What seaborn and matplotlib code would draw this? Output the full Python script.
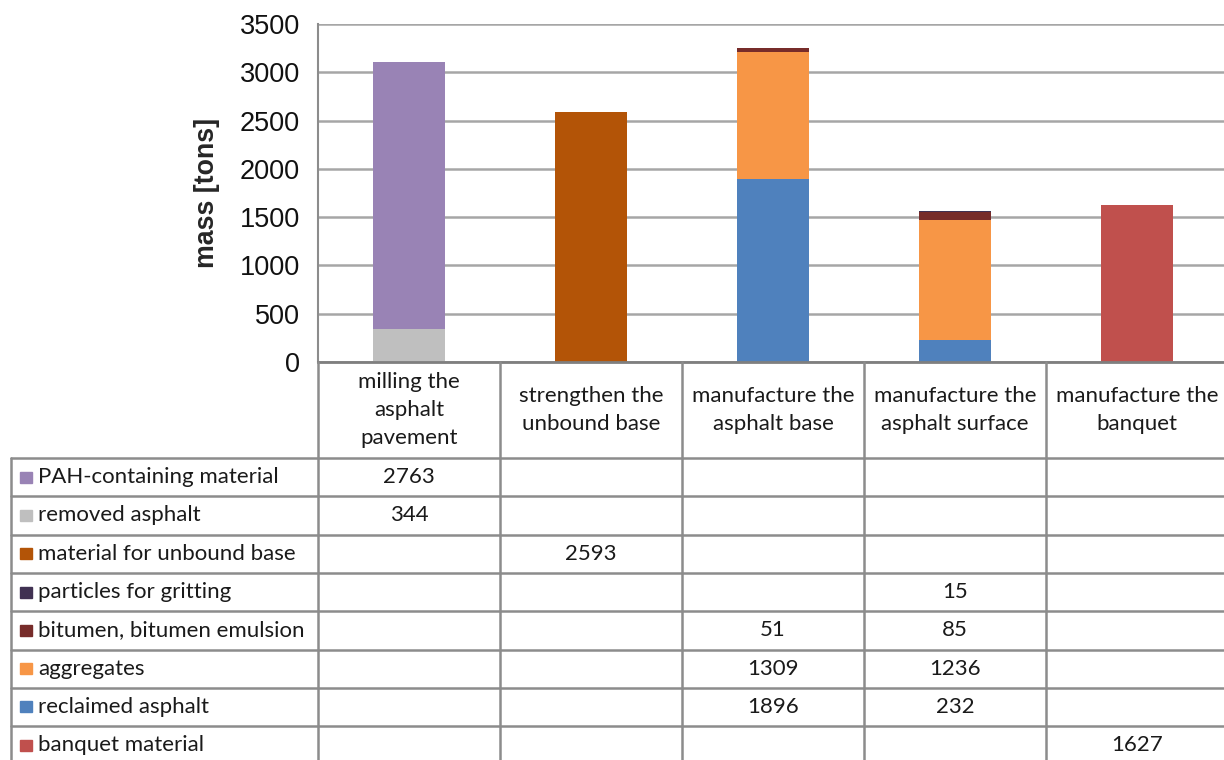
import numpy as np
import pandas as pd
import seaborn as sns
import matplotlib.pyplot as plt

steps = ["milling the\nasphalt\npavement", "strengthen the\nunbound base",
         "manufacture the\nasphalt base", "manufacture the\nasphalt surface",
         "manufacture the\nbanquet"]

# table order (top to bottom)
series_names = ["PAH-containing material", "removed asphalt", "material for unbound base",
                "particles for gritting", "bitumen, bitumen emulsion", "aggregates",
                "reclaimed asphalt", "banquet material"]
pah        = [2763, None, None, None, None]
removed    = [344, None, None, None, None]
unbound    = [None, 2593, None, None, None]
particles  = [None, None, None, 15, None]
bitumen    = [None, None, 51, 85, None]
aggregates = [None, None, 1309, 1236, None]
reclaimed  = [None, None, 1896, 232, None]
banquet    = [None, None, None, None, 1627]
series_values = [pah, removed, unbound, particles, bitumen, aggregates, reclaimed, banquet]
colors = ["#9983B5", "#BFBFBF", "#B35407", "#403152", "#772C2A", "#F79646", "#4F81BD", "#C0504D"]

W, H = 1224, 760
fig = plt.figure(figsize=(W / 100, H / 100), dpi=100)
sns.set_style("white")
plt.rcParams["font.family"] = ["Liberation Sans", "DejaVu Sans"]

# plot area in pixels
x0, y_top, y_zero, col_w = 318, 24, 362, 182
ax = fig.add_axes([x0 / W, (H - y_zero) / H, 5 * col_w / W, (y_zero - y_top) / H])

# stacked bars: bottom series is the last row in the table
bottom = np.zeros(len(steps))
for name, vals, c in reversed(list(zip(series_names, series_values, colors))):
    v = np.array([0 if x is None else x for x in vals], dtype=float)
    sns.barplot(x=list(range(len(steps))), y=v, bottom=bottom, color=c, saturation=1,
                width=0.4, errorbar=None, ax=ax, linewidth=0)
    bottom += v

ax.set_ylim(0, 3500)
ax.set_xlim(-0.5, len(steps) - 0.5)
ax.set_yticks(range(0, 3501, 500))
ax.tick_params(axis="y", labelsize=19.5, length=10, width=1.5, color="#8C8C8C", pad=3,
               labelcolor="#111111")
ax.set_xticks([])
ax.set_xlabel("")
ax.set_ylabel("mass [tons]", fontsize=19.3, fontweight="bold", labelpad=14)
ax.yaxis.grid(True, color="#A6A6A6", lw=1.8)
ax.set_axisbelow(True)
for s in ["top", "right"]:
    ax.spines[s].set_visible(False)
ax.spines["left"].set_color("#8C8C8C")
ax.spines["left"].set_linewidth(1.5)
ax.spines["bottom"].set_color("#7F7F7F")
ax.spines["bottom"].set_linewidth(2)

# data table underneath, drawn in pixel coordinates
tax = fig.add_axes([0, 0, 1, 1])
tax.set_xlim(0, W)
tax.set_ylim(H, 0)
tax.axis("off")
tax.patch.set_alpha(0)

line_c, line_w = "#8C8C8C", 1.8
tfont = ["Lato", "DejaVu Sans"]
tsize = 16
header_bot, row_h, left = 458, 38.3, 11
n_rows = len(series_names)
table_bot = header_bot + n_rows * row_h

# vertical lines
for i in range(len(steps) + 1):
    xc = x0 + i * col_w
    tax.plot([xc, xc], [y_zero, table_bot], color=line_c, lw=line_w)
tax.plot([left, left], [header_bot, table_bot], color=line_c, lw=line_w)
# horizontal lines
for r in range(n_rows + 1):
    yr = header_bot + r * row_h
    tax.plot([left, W], [yr, yr], color=line_c, lw=line_w)

# header text
for i, s in enumerate(steps):
    tax.text(x0 + (i + 0.5) * col_w, (y_zero + header_bot) / 2, s, ha="center", va="center",
             fontsize=tsize, family=tfont, linespacing=1.5, color="#1a1a1a")

# rows
for r, (name, vals, c) in enumerate(zip(series_names, series_values, colors)):
    yc = header_bot + (r + 0.5) * row_h
    tax.add_patch(plt.Rectangle((20, yc - 5.5), 12, 11, color=c))
    tax.text(38, yc, name, ha="left", va="center", fontsize=tsize, family=tfont, color="#1a1a1a")
    for i, v in enumerate(vals):
        if v is not None:
            tax.text(x0 + (i + 0.5) * col_w, yc, str(v), ha="center", va="center",
                     fontsize=tsize, family=tfont, color="#1a1a1a")

fig.savefig("out.png", dpi=100)
